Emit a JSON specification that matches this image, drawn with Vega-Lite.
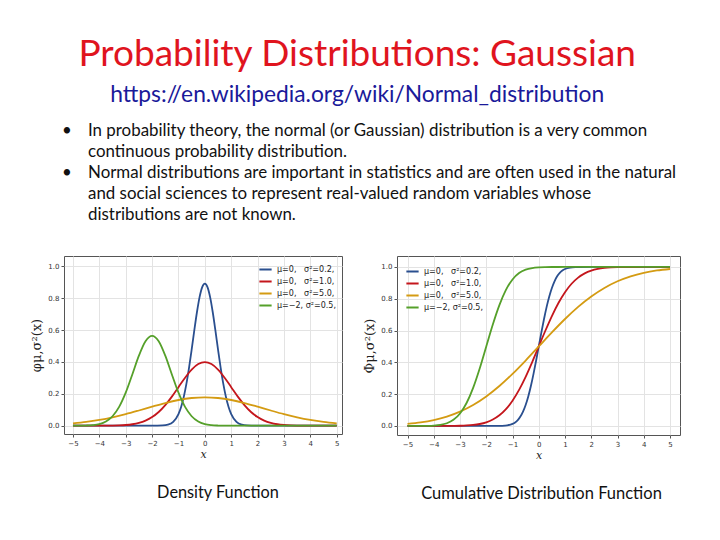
{
  "$schema": "https://vega.github.io/schema/vega-lite/v6.json",
  "background": "white",
  "padding": {"left": 30, "top": 36, "right": 5, "bottom": 5},
  "title": {
    "text": "Probability Distributions: Gaussian",
    "subtitle": "https://en.wikipedia.org/wiki/Normal_distribution",
    "anchor": "middle",
    "font": "Lato",
    "fontSize": 37,
    "fontWeight": "normal",
    "color": "#e0141e",
    "subtitleFont": "Lato",
    "subtitleFontSize": 22.8,
    "subtitleColor": "#1a1a9a",
    "subtitlePadding": 10,
    "offset": 12
  },
  "datasets": {
    "bullets": [
      {"row": 1, "col": "b", "t": "•"},
      {"row": 1, "col": "t", "t": "In probability theory, the normal (or Gaussian) distribution is a very common"},
      {"row": 2, "col": "t", "t": "continuous probability distribution."},
      {"row": 3, "col": "b", "t": "•"},
      {"row": 3, "col": "t", "t": "Normal distributions are important in statistics and are often used in the natural"},
      {"row": 4, "col": "t", "t": "and social sciences to represent real-valued random variables whose"},
      {"row": 5, "col": "t", "t": "distributions are not known."}
    ],
    "curves": [
      {"s":"A","x":-5,"p":0,"c":0},
      {"s":"A","x":-2,"p":0,"c":0},
      {"s":"A","x":-1.6,"p":0.0015,"c":0.0002},
      {"s":"A","x":-1.4,"p":0.0066,"c":0.0009},
      {"s":"A","x":-1.2,"p":0.0244,"c":0.0036},
      {"s":"A","x":-1.0,"p":0.0732,"c":0.0127},
      {"s":"A","x":-0.9,"p":0.1177,"c":0.0221},
      {"s":"A","x":-0.8,"p":0.180,"c":0.0368},
      {"s":"A","x":-0.7,"p":0.262,"c":0.0588},
      {"s":"A","x":-0.6,"p":0.363,"c":0.0899},
      {"s":"A","x":-0.5,"p":0.4775,"c":0.1318},
      {"s":"A","x":-0.4,"p":0.598,"c":0.1856},
      {"s":"A","x":-0.3,"p":0.712,"c":0.2511},
      {"s":"A","x":-0.2,"p":0.807,"c":0.3274},
      {"s":"A","x":-0.1,"p":0.870,"c":0.4115},
      {"s":"A","x":0,"p":0.892,"c":0.5},
      {"s":"A","x":0.1,"p":0.870,"c":0.5885},
      {"s":"A","x":0.2,"p":0.807,"c":0.6726},
      {"s":"A","x":0.3,"p":0.712,"c":0.7489},
      {"s":"A","x":0.4,"p":0.598,"c":0.8144},
      {"s":"A","x":0.5,"p":0.4775,"c":0.8682},
      {"s":"A","x":0.6,"p":0.363,"c":0.9101},
      {"s":"A","x":0.7,"p":0.262,"c":0.9412},
      {"s":"A","x":0.8,"p":0.180,"c":0.9632},
      {"s":"A","x":0.9,"p":0.1177,"c":0.9779},
      {"s":"A","x":1.0,"p":0.0732,"c":0.9873},
      {"s":"A","x":1.2,"p":0.0244,"c":0.9964},
      {"s":"A","x":1.4,"p":0.0066,"c":0.9991},
      {"s":"A","x":1.6,"p":0.0015,"c":0.9998},
      {"s":"A","x":2,"p":0,"c":1},
      {"s":"A","x":5,"p":0,"c":1},

      {"s":"B","x":-5,"p":0,"c":0},
      {"s":"B","x":-4,"p":0.0001,"c":0},
      {"s":"B","x":-3.75,"p":0.0004,"c":0.0001},
      {"s":"B","x":-3.5,"p":0.0009,"c":0.0002},
      {"s":"B","x":-3.25,"p":0.0020,"c":0.0006},
      {"s":"B","x":-3,"p":0.0044,"c":0.0013},
      {"s":"B","x":-2.75,"p":0.0091,"c":0.0030},
      {"s":"B","x":-2.5,"p":0.0175,"c":0.0062},
      {"s":"B","x":-2.25,"p":0.0317,"c":0.0122},
      {"s":"B","x":-2,"p":0.0540,"c":0.0228},
      {"s":"B","x":-1.75,"p":0.0863,"c":0.0401},
      {"s":"B","x":-1.5,"p":0.1295,"c":0.0668},
      {"s":"B","x":-1.25,"p":0.1826,"c":0.1056},
      {"s":"B","x":-1,"p":0.2420,"c":0.1587},
      {"s":"B","x":-0.75,"p":0.3011,"c":0.2266},
      {"s":"B","x":-0.5,"p":0.3521,"c":0.3085},
      {"s":"B","x":-0.25,"p":0.3867,"c":0.4013},
      {"s":"B","x":0,"p":0.3989,"c":0.5},
      {"s":"B","x":0.25,"p":0.3867,"c":0.5987},
      {"s":"B","x":0.5,"p":0.3521,"c":0.6915},
      {"s":"B","x":0.75,"p":0.3011,"c":0.7734},
      {"s":"B","x":1,"p":0.2420,"c":0.8413},
      {"s":"B","x":1.25,"p":0.1826,"c":0.8944},
      {"s":"B","x":1.5,"p":0.1295,"c":0.9332},
      {"s":"B","x":1.75,"p":0.0863,"c":0.9599},
      {"s":"B","x":2,"p":0.0540,"c":0.9772},
      {"s":"B","x":2.25,"p":0.0317,"c":0.9878},
      {"s":"B","x":2.5,"p":0.0175,"c":0.9938},
      {"s":"B","x":2.75,"p":0.0091,"c":0.9970},
      {"s":"B","x":3,"p":0.0044,"c":0.9987},
      {"s":"B","x":3.25,"p":0.0020,"c":0.9994},
      {"s":"B","x":3.5,"p":0.0009,"c":0.9998},
      {"s":"B","x":3.75,"p":0.0004,"c":0.9999},
      {"s":"B","x":4,"p":0.0001,"c":1},
      {"s":"B","x":5,"p":0,"c":1},

      {"s":"C","x":-5,"p":0.0146,"c":0.0127},
      {"s":"C","x":-4.5,"p":0.0235,"c":0.0221},
      {"s":"C","x":-4,"p":0.0360,"c":0.0368},
      {"s":"C","x":-3.5,"p":0.0524,"c":0.0588},
      {"s":"C","x":-3,"p":0.0725,"c":0.0899},
      {"s":"C","x":-2.5,"p":0.0955,"c":0.1318},
      {"s":"C","x":-2,"p":0.1196,"c":0.1856},
      {"s":"C","x":-1.5,"p":0.1425,"c":0.2511},
      {"s":"C","x":-1,"p":0.1614,"c":0.3274},
      {"s":"C","x":-0.5,"p":0.1740,"c":0.4115},
      {"s":"C","x":0,"p":0.1784,"c":0.5},
      {"s":"C","x":0.5,"p":0.1740,"c":0.5885},
      {"s":"C","x":1,"p":0.1614,"c":0.6726},
      {"s":"C","x":1.5,"p":0.1425,"c":0.7489},
      {"s":"C","x":2,"p":0.1196,"c":0.8144},
      {"s":"C","x":2.5,"p":0.0955,"c":0.8682},
      {"s":"C","x":3,"p":0.0725,"c":0.9101},
      {"s":"C","x":3.5,"p":0.0524,"c":0.9412},
      {"s":"C","x":4,"p":0.0360,"c":0.9632},
      {"s":"C","x":4.5,"p":0.0235,"c":0.9779},
      {"s":"C","x":5,"p":0.0146,"c":0.9873},

      {"s":"D","x":-5,"p":0.0001,"c":0},
      {"s":"D","x":-4.75,"p":0.0003,"c":0.0001},
      {"s":"D","x":-4.5,"p":0.0011,"c":0.0002},
      {"s":"D","x":-4.25,"p":0.0036,"c":0.0007},
      {"s":"D","x":-4,"p":0.0103,"c":0.0023},
      {"s":"D","x":-3.75,"p":0.0264,"c":0.0067},
      {"s":"D","x":-3.5,"p":0.0595,"c":0.0169},
      {"s":"D","x":-3.25,"p":0.1183,"c":0.0385},
      {"s":"D","x":-3,"p":0.2076,"c":0.0786},
      {"s":"D","x":-2.75,"p":0.3215,"c":0.1444},
      {"s":"D","x":-2.5,"p":0.4394,"c":0.2398},
      {"s":"D","x":-2.25,"p":0.5300,"c":0.3618},
      {"s":"D","x":-2,"p":0.5642,"c":0.5},
      {"s":"D","x":-1.75,"p":0.5300,"c":0.6382},
      {"s":"D","x":-1.5,"p":0.4394,"c":0.7602},
      {"s":"D","x":-1.25,"p":0.3215,"c":0.8556},
      {"s":"D","x":-1,"p":0.2076,"c":0.9214},
      {"s":"D","x":-0.75,"p":0.1183,"c":0.9615},
      {"s":"D","x":-0.5,"p":0.0595,"c":0.9831},
      {"s":"D","x":-0.25,"p":0.0264,"c":0.9933},
      {"s":"D","x":0,"p":0.0103,"c":0.9977},
      {"s":"D","x":0.25,"p":0.0036,"c":0.9993},
      {"s":"D","x":0.5,"p":0.0011,"c":0.9998},
      {"s":"D","x":0.75,"p":0.0003,"c":0.9999},
      {"s":"D","x":1,"p":0.0001,"c":1},
      {"s":"D","x":2,"p":0,"c":1},
      {"s":"D","x":5,"p":0,"c":1}
    ]
  },
  "spacing": 29,
  "vconcat": [
    {
      "width": 620,
      "height": 106,
      "view": {"stroke": null},
      "data": {"name": "bullets"},
      "mark": {"type": "text", "align": "left", "baseline": "middle", "font": "Lato", "fontSize": 16.9, "color": "#111"},
      "encoding": {
        "x": {"field": "col", "type": "nominal", "scale": {"type": "point", "padding": 0, "domain": ["b", "t"], "range": [-2, 24]}, "axis": null},
        "y": {"field": "row", "type": "ordinal", "axis": null},
        "text": {"field": "t"}
      }
    },
    {
      "spacing": 20,
      "hconcat": [
        {
          "width": 278,
          "height": 178,
          "data": {"name": "curves"},
          "title": {"text": "Density Function", "orient": "bottom", "font": "Lato", "fontSize": 16.3, "fontWeight": "normal", "color": "#111", "offset": 26, "dx": 15},
          "mark": {"type": "line", "interpolate": "monotone", "strokeWidth": 1.8},
          "encoding": {
            "x": {"field": "x", "type": "quantitative", "scale": {"domain": [-5.34, 5.2], "nice": false, "zero": false},
                  "axis": {"values": [-5,-4,-3,-2,-1,0,1,2,3,4,5], "title": "x", "titleFont": "DejaVu Serif", "titleFontStyle": "italic", "titleFontWeight": "normal", "titleFontSize": 11, "titlePadding": 2}},
            "y": {"field": "p", "type": "quantitative", "scale": {"domain": [-0.052, 1.065], "nice": false, "zero": false},
                  "axis": {"values": [0,0.2,0.4,0.6,0.8,1.0], "format": ".1f", "title": "φμ,σ²(x)", "titleFont": "DejaVu Serif", "titleFontWeight": "normal", "titleFontSize": 13, "titlePadding": 4}},
            "color": {"field": "s", "type": "nominal",
                      "scale": {"domain": ["A","B","C","D"], "range": ["#2a4f8f", "#c4161c", "#d49b12", "#55a02a"]},
                      "legend": {"orient": "top-right", "title": null, "offset": 4, "labelExpr": "{'A':'μ=0,\u00a0\u00a0\u00a0σ²=0.2,','B':'μ=0,\u00a0\u00a0\u00a0σ²=1.0,','C':'μ=0,\u00a0\u00a0\u00a0σ²=5.0,','D':'μ=−2,\u00a0σ²=0.5,'}[datum.label]"}}
          }
        },
        {
          "width": 283,
          "height": 179,
          "data": {"name": "curves"},
          "title": {"text": "Cumulative Distribution Function", "orient": "bottom", "font": "Lato", "fontSize": 16.5, "fontWeight": "normal", "color": "#111", "offset": 26, "dx": 3},
          "mark": {"type": "line", "interpolate": "monotone", "strokeWidth": 1.8},
          "encoding": {
            "x": {"field": "x", "type": "quantitative", "scale": {"domain": [-5.4, 5.38], "nice": false, "zero": false},
                  "axis": {"values": [-5,-4,-3,-2,-1,0,1,2,3,4,5], "title": "x", "titleFont": "DejaVu Serif", "titleFontStyle": "italic", "titleFontWeight": "normal", "titleFontSize": 11, "titlePadding": 2}},
            "y": {"field": "c", "type": "quantitative", "scale": {"domain": [-0.057, 1.069], "nice": false, "zero": false},
                  "axis": {"values": [0,0.2,0.4,0.6,0.8,1.0], "format": ".1f", "title": "Φμ,σ²(x)", "titleFont": "DejaVu Serif", "titleFontWeight": "normal", "titleFontSize": 13, "titlePadding": 4}},
            "color": {"field": "s", "type": "nominal",
                      "scale": {"domain": ["A","B","C","D"], "range": ["#2a4f8f", "#c4161c", "#d49b12", "#55a02a"]},
                      "legend": {"orient": "top-left", "title": null, "offset": 6, "labelExpr": "{'A':'μ=0,\u00a0\u00a0\u00a0σ²=0.2,','B':'μ=0,\u00a0\u00a0\u00a0σ²=1.0,','C':'μ=0,\u00a0\u00a0\u00a0σ²=5.0,','D':'μ=−2,\u00a0σ²=0.5,'}[datum.label]"}}
          }
        }
      ]
    }
  ],
  "config": {
    "view": {"stroke": "#555", "strokeWidth": 1},
    "axis": {
      "labelFont": "DejaVu Sans",
      "labelFontSize": 7,
      "labelColor": "#333",
      "gridColor": "#e3e3e3",
      "domain": false,
      "tickColor": "#555",
      "tickSize": 3,
      "labelPadding": 2,
      "titleColor": "#222"
    },
    "legend": {
      "labelFont": "DejaVu Sans",
      "labelFontSize": 8,
      "labelColor": "#222",
      "symbolType": "stroke",
      "symbolStrokeWidth": 2,
      "symbolSize": 150,
      "rowPadding": 0,
      "padding": 2
    }
  }
}
